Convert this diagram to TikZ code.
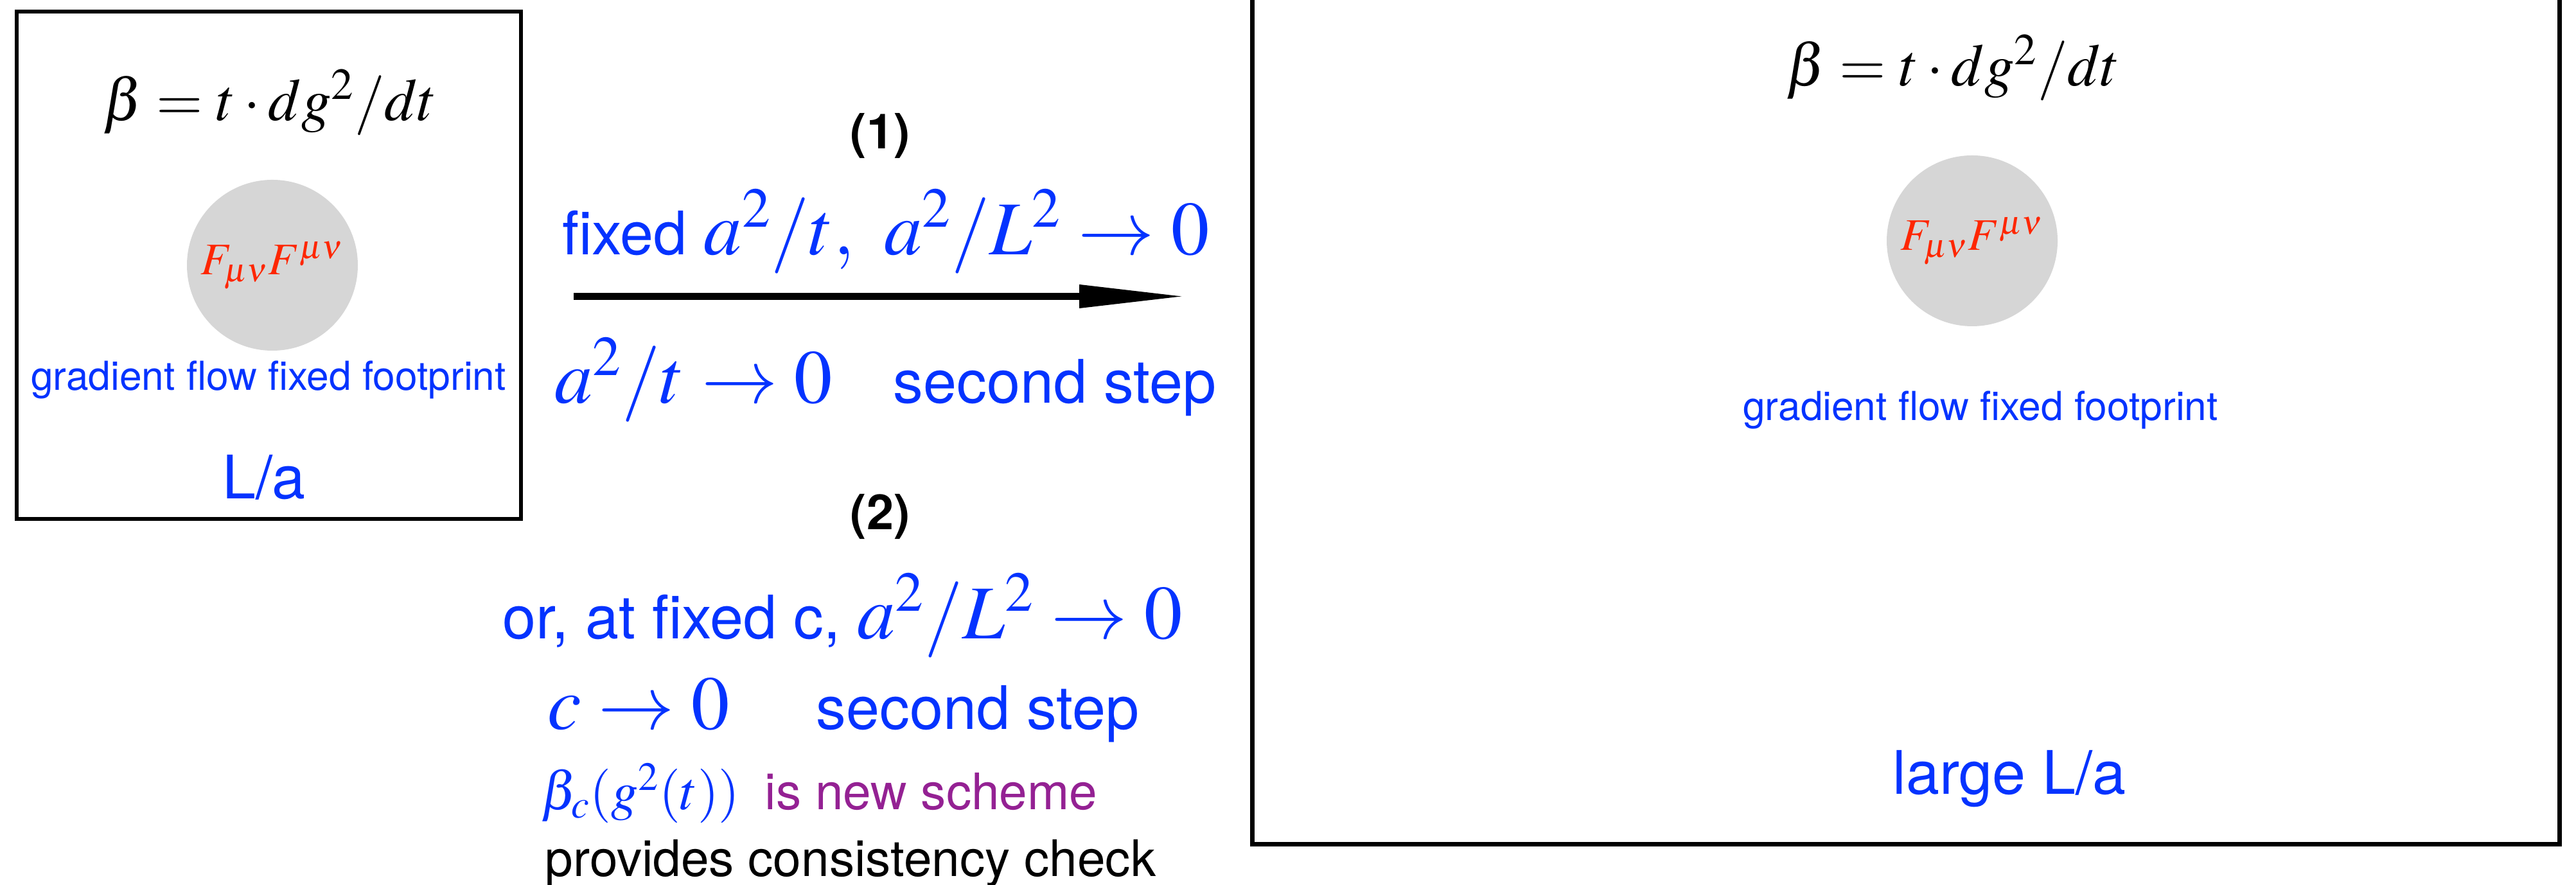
\documentclass[tikz,border=0pt]{standalone}
\usepackage{mathptmx}
\usepackage[no-math]{fontspec}
\setmainfont{TeX Gyre Heros}
\usepackage{tikz}
\usetikzlibrary{positioning,arrows.meta}
\definecolor{keyblue}{RGB}{4,51,255}
\definecolor{keyred}{RGB}{255,38,0}
\definecolor{keyplum}{RGB}{148,33,147}
\definecolor{spotgray}{RGB}{214,214,214}
\tikzset{
  frame/.style = {draw, line width=0.068cm, minimum width=7.85cm, minimum height=7.9cm, inner sep=0pt},
  spot/.style  = {circle, fill=spotgray, minimum size=2.66cm, inner sep=0pt, text=keyred, font=\fontsize{20}{24}\selectfont},
  eqn/.style   = {anchor=base, inner sep=0pt, font=\fontsize{26.5}{30}\selectfont},
  note/.style  = {anchor=base, inner sep=0pt, text=keyblue, font=\fontsize{17.7}{21}\selectfont},
  big/.style   = {anchor=base, inner sep=0pt, text=keyblue, font=\fontsize{26.6}{32}\selectfont},
  small/.style = {anchor=base west, inner sep=0pt, font=\fontsize{22.3}{27}\selectfont},
  tag/.style   = {anchor=base, inner sep=0pt, font=\fontsize{21.5}{26}\selectfont\bfseries},
  flow/.style  = {-{Triangle[length=1.65cm, width=0.34cm]}, line width=0.105cm},
}
\newcommand{\mth}[1]{{\fontsize{33.7}{40}\selectfont$#1$}}
\newcommand{\betaflow}{$\beta = t\cdot dg^2/dt$}

\begin{document}
\begin{tikzpicture}
  \useasboundingbox (0,0) rectangle (40.10,13.78);
  \node[frame] (small) at (4.185,9.65) {};
  \node[eqn] (beta1) at (4.20,11.90) {\betaflow};
  \node[spot] (spot1) at (4.24,9.65) {$F_{\mu\nu}F^{\mu\nu}$};
  \node[note] (fp1) at (4.18,7.70) {gradient flow fixed footprint};
  \node[big] (la1) at (4.11,6.01) {L/a};

  \node[tag] (one) at (13.70,11.46) {(1)};
  \node[big] (lim1) at (13.79,9.81) {fixed \mth{a^2/t,\ a^2/L^2\to0}};
  \coordinate (arrS) at (8.93,9.165);
  \coordinate (arrE) at (18.45,9.165);
  \draw[flow] (arrS) -- (arrE);
  \node[big, anchor=base west] (lim2) at (8.63,7.50) {\mth{a^2/t\to0}};
  \node[big, anchor=base west] (step1) at (13.90,7.50) {second step};

  \node[tag] (two) at (13.70,5.53) {(2)};
  \node[big, anchor=base west] (lim3) at (7.82,3.83) {or, at fixed c, \mth{a^2/L^2\to0}};
  \node[big, anchor=base west] (lim4) at (8.52,2.42) {\mth{c\to0}};
  \node[big, anchor=base west] (step2) at (12.70,2.42) {second step};
  \node[big, anchor=base west, font=\fontsize{24}{28}\selectfont] (betac) at (8.42,1.17) {$\beta_c(g^2(t))$};
  \node[small, text=keyplum] (scheme) at (11.90,1.17) {is new scheme};
  \node[small] (check) at (8.48,0.13) {provides consistency check};

  \node[frame, minimum width=20.35cm, minimum height=13.9cm, line width=0.07cm] (large) at (29.665,7.58) {};
  \node[eqn] (beta2) at (30.40,12.44) {\betaflow};
  \node[spot] (spot2) at (30.70,10.03) {$F_{\mu\nu}F^{\mu\nu}$};
  \node[note] (fp2) at (30.83,7.23) {gradient flow fixed footprint};
  \node[big] (la2) at (31.28,1.41) {large L/a};
\end{tikzpicture}
\end{document}
